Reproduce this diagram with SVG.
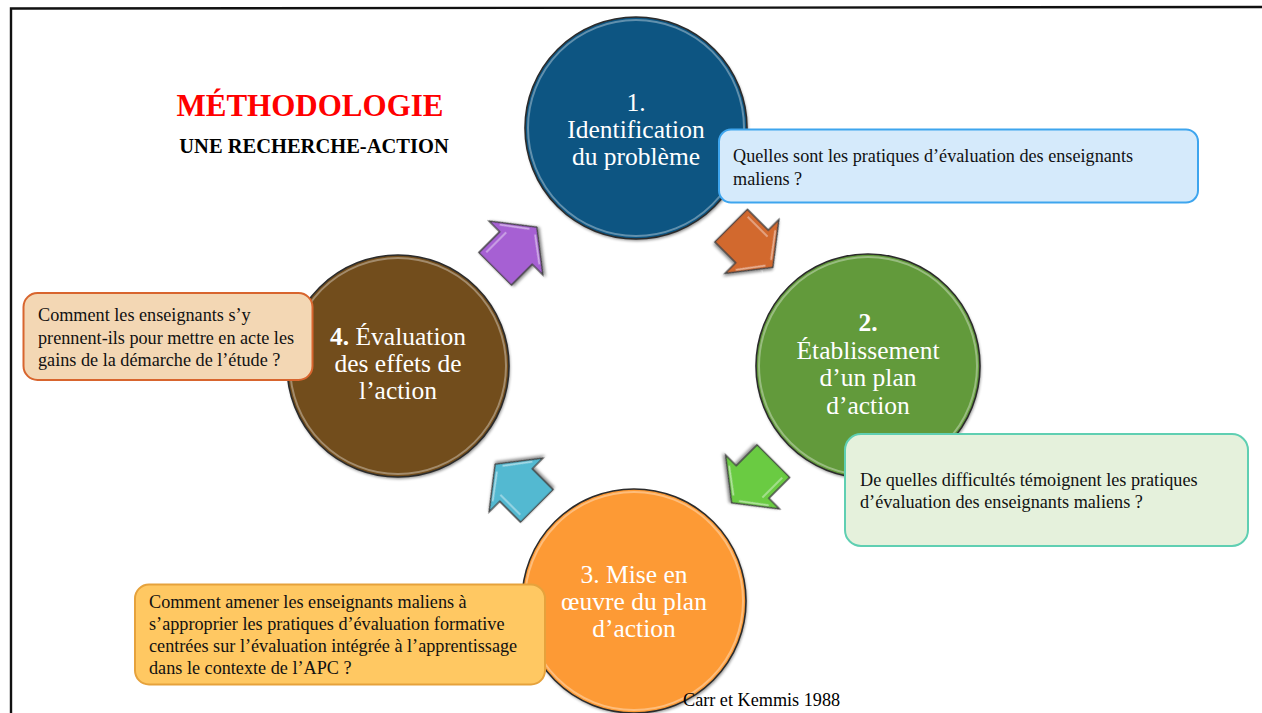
<svg xmlns="http://www.w3.org/2000/svg" width="1262" height="713" viewBox="0 0 1262 713">
<defs>
<style>
.t{font-family:"Liberation Serif","Times New Roman",serif;}
.ct{font-family:"Liberation Serif","Times New Roman",serif;font-size:25.5px;fill:#ffffff;text-anchor:middle;}
.bt{font-family:"Liberation Serif","Times New Roman",serif;font-size:18.2px;fill:#111111;}
.ring{fill:none;stroke:#2b2b2b;stroke-width:1.6;}
.rim{fill:none;stroke:#ffffff;stroke-opacity:0.35;stroke-width:2;}
.arr{stroke:#404040;stroke-width:1.3;stroke-linejoin:miter;}
.gl{fill:none;stroke:#ffffff;stroke-opacity:0.5;stroke-width:1.6;}
</style>
<path id="ar" d="M-29.5,-23 L0,-23 L0,-38 L29.5,0 L0,38 L0,23 L-29.5,23 Z"/>
<path id="arg" d="M-24,-18 L4,-18 M5,-28 L23,-4 M5,28 L23,4"/>
<filter id="sh" x="-10%" y="-10%" width="120%" height="120%">
<feGaussianBlur in="SourceAlpha" stdDeviation="1.5"/>
<feOffset dx="1" dy="1.5" result="b"/>
<feComponentTransfer><feFuncA type="linear" slope="0.45"/></feComponentTransfer>
<feMerge><feMergeNode/><feMergeNode in="SourceGraphic"/></feMerge>
</filter>
</defs>
<rect x="0" y="0" width="1262" height="713" fill="#ffffff"/>
<path d="M11,713 L11,8.5 L1262,7" fill="none" stroke="#111111" stroke-width="2.4"/>

<g id="title">
<text class="t" x="310" y="116" font-size="31" font-weight="bold" fill="#ff0000" text-anchor="middle">MÉTHODOLOGIE</text>
<text class="t" x="314" y="153" font-size="20.5" font-weight="bold" fill="#000000" text-anchor="middle">UNE RECHERCHE-ACTION</text>
</g>

<g id="connectors">
<g transform="translate(752,246.5) rotate(45)" filter="url(#sh)"><use href="#ar" class="arr" fill="#d2692f"/><use href="#arg" class="gl"/></g>
<g transform="translate(752.5,482) rotate(135)" filter="url(#sh)"><use href="#ar" class="arr" fill="#6acb43"/><use href="#arg" class="gl"/></g>
<g transform="translate(516,485) rotate(-135)" filter="url(#sh)"><use href="#ar" class="arr" fill="#52b9d1"/><use href="#arg" class="gl"/></g>
<g transform="translate(516,248) rotate(-45)" filter="url(#sh)"><use href="#ar" class="arr" fill="#a660d3"/><use href="#arg" class="gl"/></g>
</g>

<g id="node1">
<circle cx="636" cy="128" r="111" fill="#0f5482" filter="url(#sh)"/>
<circle cx="636" cy="128" r="108" class="rim"/>
<circle cx="636" cy="128" r="111" class="ring"/>
<text class="ct" x="636" y="110.5">1.</text>
<text class="ct" x="636" y="137.5">Identification</text>
<text class="ct" x="636" y="164.5">du problème</text>
</g>

<g id="node2">
<circle cx="868" cy="366" r="112" fill="#629a3a" filter="url(#sh)"/>
<circle cx="868" cy="366" r="109" class="rim"/>
<circle cx="868" cy="366" r="112" class="ring"/>
<text class="ct" x="868" y="331" font-weight="bold">2.</text>
<text class="ct" x="868" y="359">Établissement</text>
<text class="ct" x="868" y="386">d’un plan</text>
<text class="ct" x="868" y="413.5">d’action</text>
</g>

<g id="node3">
<circle cx="634" cy="601" r="112" fill="#fd9a36" filter="url(#sh)"/>
<circle cx="634" cy="601" r="109" class="rim"/>
<circle cx="634" cy="601" r="112" class="ring"/>
<text class="ct" x="634" y="582.5">3. Mise en</text>
<text class="ct" x="634" y="609.5">œuvre du plan</text>
<text class="ct" x="634" y="637">d’action</text>
</g>

<g id="node4">
<circle cx="398" cy="366" r="111" fill="#724e1b" filter="url(#sh)"/>
<circle cx="398" cy="366" r="108" class="rim"/>
<circle cx="398" cy="366" r="111" class="ring"/>
<text class="ct" x="398" y="345"><tspan font-weight="bold">4.</tspan> Évaluation</text>
<text class="ct" x="398" y="372">des effets de</text>
<text class="ct" x="398" y="399">l’action</text>
</g>

<g id="box1">
<rect x="719" y="129.5" width="479" height="73" rx="12" fill="#d5eafb" stroke="#3ea5ee" stroke-width="2"/>
<text class="bt" x="733" y="162">Quelles sont les pratiques d’évaluation des enseignants</text>
<text class="bt" x="733" y="185">maliens ?</text>
</g>

<g id="box2">
<rect x="845" y="434" width="403" height="112" rx="16" fill="#e5f1dc" stroke="#5fcfb2" stroke-width="2"/>
<text class="bt" x="860" y="486">De quelles difficultés témoignent les pratiques</text>
<text class="bt" x="860" y="508">d’évaluation des enseignants maliens ?</text>
</g>

<g id="box3">
<rect x="135" y="584.5" width="410" height="100" rx="14" fill="#ffc862" stroke="#e6a23c" stroke-width="2"/>
<text class="bt" x="149" y="608">Comment amener les enseignants maliens à</text>
<text class="bt" x="149" y="630">s’approprier les pratiques d’évaluation formative</text>
<text class="bt" x="149" y="652">centrées sur l’évaluation intégrée à l’apprentissage</text>
<text class="bt" x="149" y="674">dans le contexte de l’APC ?</text>
</g>

<g id="box4">
<rect x="23.5" y="293" width="289" height="87" rx="14" fill="#f3d7b4" stroke="#d8652e" stroke-width="2"/>
<text class="bt" x="38" y="321">Comment les enseignants s’y</text>
<text class="bt" x="38" y="344">prennent-ils pour mettre en acte les</text>
<text class="bt" x="38" y="366">gains de la démarche de l’étude ?</text>
</g>

<g id="credit">
<text class="t" x="683" y="706" font-size="18.2" fill="#000000">Carr et Kemmis 1988</text>
</g>
</svg>
